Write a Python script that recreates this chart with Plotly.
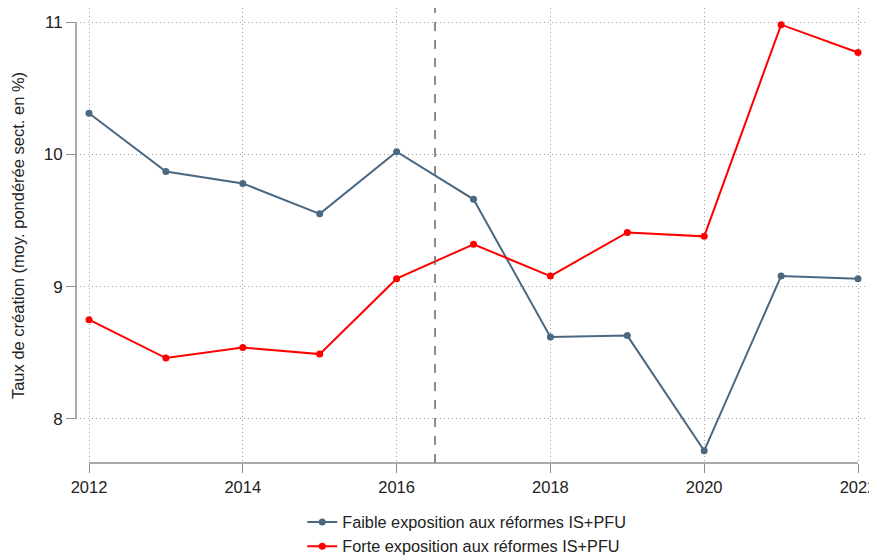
import plotly.graph_objects as go

years = [2012, 2013, 2014, 2015, 2016, 2017, 2018, 2019, 2020, 2021, 2022]
faible = [10.31, 9.87, 9.78, 9.55, 10.02, 9.66, 8.62, 8.63, 7.76, 9.08, 9.06]
forte = [8.75, 8.46, 8.54, 8.49, 9.06, 9.32, 9.08, 9.41, 9.38, 10.98, 10.77]
reform_line = 2016.5

x_ticks = [2012, 2014, 2016, 2018, 2020, 2022]
y_ticks = [8, 9, 10, 11]

fig = go.Figure()

fig.add_trace(go.Scatter(
    x=years, y=faible, mode='lines+markers',
    name='Faible exposition aux réformes IS+PFU',
    line=dict(color='#4a6882', width=2),
    marker=dict(size=7, color='#4a6882'),
))
fig.add_trace(go.Scatter(
    x=years, y=forte, mode='lines+markers',
    name='Forte exposition aux réformes IS+PFU',
    line=dict(color='#ff0000', width=2),
    marker=dict(size=7, color='#ff0000'),
))

# dashed reform line
fig.add_shape(type='line', xref='x', yref='paper', x0=reform_line, x1=reform_line,
              y0=0, y1=1, line=dict(color='#666666', width=1.5, dash='dash'))

# stata-style axis lines spanning only the tick range
fig.add_shape(type='line', xref='paper', yref='y', x0=0, x1=0,
              y0=y_ticks[0], y1=y_ticks[-1], line=dict(color='#8c8c8c', width=1.5))
fig.add_shape(type='line', xref='x', yref='paper', x0=x_ticks[0], x1=x_ticks[-1],
              y0=0, y1=0, line=dict(color='#8c8c8c', width=1.5))

grid = dict(showgrid=True, gridcolor='#a0a0a0', gridwidth=1, griddash='1px,3px',
            zeroline=False, showline=False, ticks='outside', ticklen=9,
            tickcolor='#8c8c8c', tickwidth=1, automargin=False,
            ticklabeloverflow='allow')

fig.update_xaxes(range=[2011.831, 2022.117], tickvals=x_ticks,
                 tickfont=dict(size=16.5, color='#222222'), **grid)
fig.update_yaxes(range=[7.667, 11.106], tickvals=y_ticks,
                 tickfont=dict(size=17, color='#222222'),
                 title=dict(text='Taux de création (moy. pondérée sect. en %)',
                            font=dict(size=16.5, color='#222222'), standoff=14),
                 **grid)

# the page body keeps an 8px margin, so the figure is 8px smaller on each side
fig.update_layout(
    width=869, height=549,
    margin=dict(l=68, r=10, t=0, b=94),
    paper_bgcolor='white', plot_bgcolor='white',
    font=dict(family='Liberation Sans, Arial, sans-serif', size=16, color='#222222'),
    legend=dict(orientation='v', xref='paper', yref='container',
                x=0.494, xanchor='center', y=0.095, yanchor='top',
                font=dict(size=16.3), tracegroupgap=0, itemwidth=30),
    showlegend=True,
)

fig.write_html("out.html")
